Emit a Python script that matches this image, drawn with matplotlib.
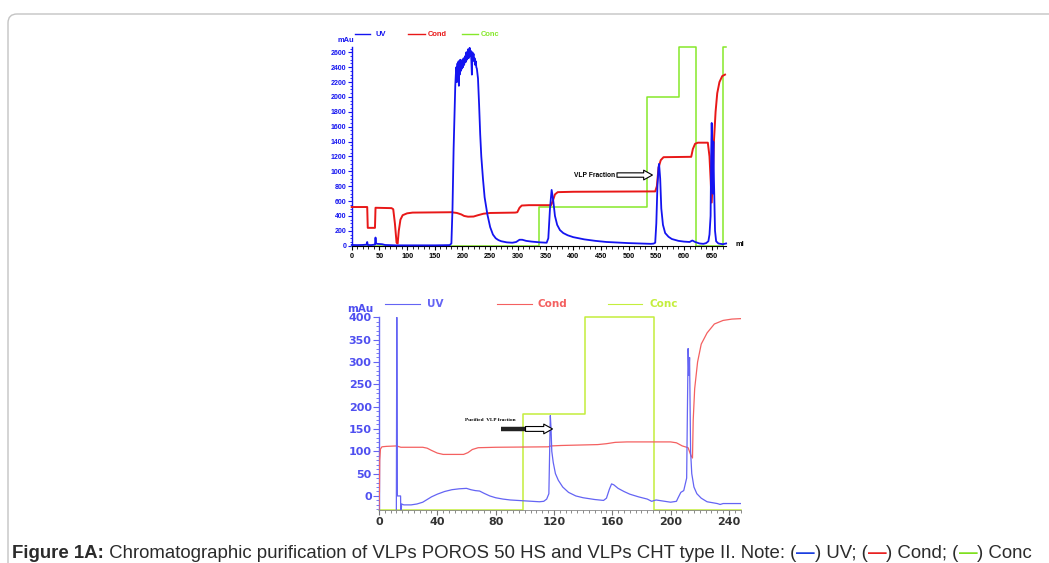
import matplotlib
matplotlib.use("Agg")
import matplotlib.pyplot as plt
from matplotlib.lines import Line2D
from matplotlib.patches import FancyBboxPatch, Rectangle
from matplotlib.ticker import MultipleLocator

# ---------------- data: top panel (POROS 50 HS) ----------------
uv1_x = [0, 10, 20, 27, 28, 29, 35, 42, 43, 44, 46, 55, 60, 80, 100, 150, 177, 180, 182, 184, 186,
         187, 188, 189, 190, 190.5, 191, 192, 193, 193.5, 194, 195, 196, 197, 198, 199, 200, 201,
         202, 203, 204, 205, 206, 207, 208, 209, 210, 211, 212, 213, 214, 215, 216, 217, 218, 219,
         220, 221, 222, 223, 224, 225, 226, 228, 230, 232, 234, 237, 240, 245, 250, 255, 260, 265,
         270, 280, 290, 297, 303, 308, 315, 325, 340, 352, 355, 358, 361, 364, 367, 371, 376, 382,
         390, 400, 420, 440, 460, 480, 500, 520, 540, 545, 548, 550, 552, 554, 555, 557, 559, 562,
         566, 572, 578, 590, 600, 610, 615, 620, 628, 635, 640, 644, 646, 648, 649, 650, 651, 652,
         653, 654, 656, 658, 662, 670, 676]
uv1_y = [10, 8, 10, 15, 50, 10, 8, 15, 110, 30, 25, 20, 10, 5, 5, 5, 8, 30, 500, 1300, 1900,
         2150, 2300, 2400, 2200, 2350, 2450, 2250, 2480, 2150, 2400, 2300, 2500, 2350, 2450, 2380,
         2500, 2400, 2520, 2430, 2480, 2550, 2470, 2600, 2500, 2580, 2640, 2520, 2600, 2660, 2550,
         2620, 2500, 2300, 2600, 2520, 2580, 2480, 2520, 2430, 2480, 2400, 2380, 2250, 1900, 1500,
         1200, 900, 650, 420, 250, 150, 100, 75, 60, 45, 40, 50, 80, 80, 65, 55, 45, 40, 100, 500,
         750, 600, 400, 280, 210, 170, 140, 115, 85, 65, 50, 42, 35, 30, 25, 28, 40, 300, 800,
         1050, 1100, 900, 500, 280, 170, 120, 90, 65, 55, 50, 70, 50, 30, 25, 35, 60, 150, 400,
         1200, 1650, 1300, 700, 1400, 900, 200, 60, 30, 20, 30]

cond1_x = [0, 28, 29, 42, 43, 72, 75, 78, 81, 83, 85, 88, 92, 100, 110, 180, 190, 198, 203, 210,
           220, 228, 238, 250, 295, 299, 303, 307, 320, 360, 363, 367, 372, 400, 548, 551, 554,
           558, 563, 613, 616, 620, 625, 643, 646, 648, 650, 652, 654, 657, 660, 664, 669, 674]
cond1_y = [520, 520, 240, 240, 510, 505, 490, 300, 40, 30, 200, 350, 410, 435, 445, 450, 440, 420,
           400, 390, 392, 410, 430, 440, 445, 450, 510, 540, 545, 545, 600, 690, 720, 725, 730, 800,
           1050, 1150, 1190, 1195, 1300, 1370, 1385, 1385, 1200, 900, 580, 900, 1400, 1800, 2050,
           2200, 2280, 2300]

conc1_x = [0, 338, 533, 591, 622, 671, 676]
conc1_y = [0, 525, 2000, 2667, 0, 2667, 2667]

x1_ticks = list(range(0, 651, 50))
y1_ticks = list(range(0, 2601, 200))

# ---------------- data: bottom panel (CHT type II) ----------------
uv2_x = [11.9, 12.2, 12.6, 14.8, 14.9, 15.3, 15.5, 17, 22, 26, 30, 33, 36, 40, 45, 50, 55, 60, 63,
         66, 69, 72, 76, 80, 85, 90, 100, 110, 113, 115, 116.5, 117.5, 118, 118.5, 119.5, 121, 123,
         126, 130, 135, 140, 148, 154, 156, 158, 159.5, 161, 164, 168, 172, 178, 184, 187, 190, 194,
         200, 204, 205, 207, 209, 211, 212, 212.5, 213, 213.7, 214.5, 216, 218, 221, 225, 232, 234,
         236, 248]
uv2_y = [-31, 400, 0, 0, -31, -31, -18, -20, -20, -18, -14, -8, -2, 4, 10, 14, 16, 17, 14,
         12, 11, 6, 0, -4, -7, -9, -11, -13, -12, -7, 5, 180, 150, 100, 75, 50, 35,
         20, 8, 0, -4, -8, -10, -5, 15, 27, 25, 17, 10, 4, -2, -7, -12, -9, -11,
         -14, -12, -5, 8, 12, 40, 330, 270, 310, 100, 50, 20, 5, -5, -13, -17, -19,
         -17, -17]

cond2_x = [0, 0.3, 0.5, 1, 2, 5, 12, 15, 30, 33, 36, 40, 44, 58, 61, 64, 68, 80, 116, 118, 125,
           150, 156, 162, 170, 200, 204, 208, 212, 214, 215, 215.5, 216.5, 218.5, 221, 225, 230,
           236, 242, 248]
cond2_y = [-31, 10, 80, 105, 110, 111, 112, 109, 109, 107, 102, 96, 93, 93, 97, 104, 108, 109, 110,
           112, 113, 115, 117, 120, 121, 121, 119, 112, 108, 90, 85, 170, 240, 300, 340, 365, 385,
           393, 396, 397]

conc2_x = [0, 99, 141.5, 188.5, 248]
conc2_y = [-31, 184, 400, -31, -31]

x2_ticks = list(range(0, 241, 40))
y2_ticks = list(range(0, 401, 50))

# ---------------- figure ----------------
W, H = 1049, 563
fig = plt.figure(figsize=(W / 100, H / 100), dpi=100)
fig.patch.set_facecolor("white")
T = fig.dpi_scale_trans


def P(x, y):
    return (x / 100.0, (H - y) / 100.0)


# border
fig.patches.append(FancyBboxPatch(P(8, 600), (1070 - 8) / 100, (600 - 14) / 100,
                                  boxstyle="round,pad=0,rounding_size=0.09",
                                  transform=T, fill=False, ec="#c4c4c4", lw=1.0))

# ---------- top axes ----------
B1, R1, G1 = "#1414f0", "#e81818", "#86e82a"
ax1 = fig.add_axes([351.7 / W, (H - 245.7) / H, (726.1 - 351.7) / W, 198.6 / H])
ax1.set_xlim(0, 676)
ax1.set_ylim(0, 2670)
ax1.plot(conc1_x, conc1_y, color=G1, lw=1.1, drawstyle="steps-post", clip_on=False, zorder=2)
ax1.plot(cond1_x, cond1_y, color=R1, lw=1.4, clip_on=False, zorder=3)
ax1.plot(uv1_x, uv1_y, color=B1, lw=1.3, clip_on=False, zorder=4)
for s in ("top", "right"):
    ax1.spines[s].set_visible(False)
ax1.spines["left"].set_color(B1)
ax1.spines["left"].set_linewidth(1.0)
ax1.spines["bottom"].set_color("black")
ax1.spines["bottom"].set_linewidth(0.8)
ax1.set_xticks(x1_ticks)
ax1.set_yticks(y1_ticks)
ax1.xaxis.set_minor_locator(MultipleLocator(10))
ax1.yaxis.set_minor_locator(MultipleLocator(50))
ax1.tick_params(axis="y", which="major", length=3, width=0.8, color=B1, labelcolor=B1,
                labelsize=5, pad=1)
ax1.tick_params(axis="y", which="minor", length=1.6, width=0.6, color=B1)
ax1.tick_params(axis="x", which="major", length=3, width=0.8, color="black", labelsize=5.2, pad=2)
ax1.tick_params(axis="x", which="minor", length=2, width=0.6, color="black")
for lbl in ax1.get_xticklabels() + ax1.get_yticklabels():
    lbl.set_fontweight("bold")
    lbl.set_fontfamily("Liberation Sans")
ax1.set_facecolor("none")

# annotation top
ax1.text(475, 950, "VLP Fraction", ha="right", va="center", fontsize=4.8, fontweight="bold",
         family="Liberation Sans")
ax1.annotate("", xy=(543, 950), xytext=(479, 950),
             arrowprops=dict(arrowstyle="simple,head_length=0.9,head_width=1.0,tail_width=0.45",
                             fc="white", ec="black", lw=0.8, mutation_scale=7,
                             shrinkA=0, shrinkB=0))

# legend top
fs_l1 = 5.4
fig.text(*P(337, 40), "mAu", transform=T, color=B1, fontsize=fs_l1, fontweight="bold",
         family="Liberation Sans", va="center", ha="left")
fig.text(*P(735, 245), "ml", transform=T, color="black", fontsize=fs_l1, fontweight="bold",
         family="Liberation Sans", va="center", ha="left")
for (x0, x1, tx, lab, c) in [(355, 370, 375, "UV", B1), (408, 425, 428, "Cond", R1),
                             (462, 478, 481, "Conc", G1)]:
    fig.add_artist(Line2D([x0 / 100, x1 / 100], [(H - 34) / 100] * 2, transform=T, color=c, lw=1.0))
    fig.text(*P(tx, 34), lab, transform=T, color=c, fontsize=fs_l1, fontweight="bold",
             family="Liberation Sans", va="center", ha="left")

# ---------- bottom axes ----------
B2, R2, G2 = "#6464f4", "#f46060", "#c4ee3c"
ax2 = fig.add_axes([379 / W, (H - 509.8) / H, (740.6 - 379) / W, 192.5 / H])
ax2.set_xlim(0, 248)
ax2.set_ylim(-31, 400)
ax2.plot(conc2_x, conc2_y, color=G2, lw=1.1, drawstyle="steps-post", clip_on=False, zorder=2)
ax2.plot(cond2_x, cond2_y, color=R2, lw=0.9, zorder=3)
ax2.plot(uv2_x, uv2_y, color=B2, lw=0.9, zorder=4)
for s in ("top", "right"):
    ax2.spines[s].set_visible(False)
ax2.spines["left"].set_color(B2)
ax2.spines["left"].set_linewidth(1.0)
ax2.spines["bottom"].set_color("#888888")
ax2.spines["bottom"].set_linewidth(0.6)
ax2.set_xticks(x2_ticks)
ax2.set_yticks(y2_ticks)
ax2.xaxis.set_minor_locator(MultipleLocator(4))
ax2.yaxis.set_minor_locator(MultipleLocator(10))
ax2.tick_params(axis="y", which="major", length=4.3, width=0.8, color=B2, labelcolor="#4f4ff0",
                labelsize=8, pad=1)
ax2.tick_params(axis="y", which="minor", length=2.2, width=0.6, color=B2)
ax2.tick_params(axis="x", which="major", length=3.5, width=0.8, color="#777777",
                labelcolor="#333333", labelsize=8, pad=2)
ax2.tick_params(axis="x", which="minor", length=2.2, width=0.6, color="#777777")
for lbl in ax2.get_xticklabels() + ax2.get_yticklabels():
    lbl.set_fontweight("bold")
    lbl.set_fontfamily("DejaVu Sans")
ax2.set_facecolor("none")

# annotation bottom
ax2.text(76.5, 170, "Purified  VLP fraction", ha="center", va="center", fontsize=3.8,
         fontweight="bold", family="Liberation Serif")
ax2.plot([83.7, 101.5], [150, 150], color="#222222", lw=3.2, solid_capstyle="butt", zorder=6)
ax2.annotate("", xy=(119, 150), xytext=(100.5, 150),
             arrowprops=dict(arrowstyle="simple,head_length=0.9,head_width=1.0,tail_width=0.5",
                             fc="white", ec="black", lw=0.8, mutation_scale=7,
                             shrinkA=0, shrinkB=0), zorder=7)

# legend bottom
fig.text(*P(347, 309), "mAu", transform=T, color="#4f4ff0", fontsize=7.5, fontweight="bold",
         family="DejaVu Sans", va="center", ha="left")
for (x0, x1, tx, lab, c) in [(385, 420, 427, "UV", B2), (497, 532, 538, "Cond", R2),
                             (608, 642, 650, "Conc", G2)]:
    fig.add_artist(Line2D([x0 / 100, x1 / 100], [(H - 304) / 100] * 2, transform=T, color=c, lw=0.8))
    fig.text(*P(tx, 304), lab, transform=T, color=c, fontsize=7.5, fontweight="bold",
             family="DejaVu Sans", va="center", ha="left")

# clip the cut-off right edge of the lower picture
fig.patches.append(Rectangle(P(741.5, 532), 0.3, 0.22, transform=T, fc="white", ec="none", zorder=10))

# ---------- caption ----------
fig.canvas.draw()
renderer = fig.canvas.get_renderer()
cap_fs = 13.4
base_y = (H - 558) / 100
xcur = 12 / 100
cap_parts = [("Figure 1A:", "bold", "#2b2b2b"),
             (" Chromatographic purification of VLPs POROS 50 HS and VLPs CHT type II. Note: (", "normal", "#2b2b2b"),
             ("\u2014", "bold", "#1a3ee0"), (") UV; (", "normal", "#2b2b2b"),
             ("\u2014", "bold", "#e82020"), (") Cond; (", "normal", "#2b2b2b"),
             ("\u2014", "bold", "#7ee01e"), (") Conc", "normal", "#2b2b2b")]
for txt, wt, col in cap_parts:
    t = fig.text(xcur, base_y, txt, transform=T, fontsize=cap_fs, fontweight=wt, color=col,
                 family="Liberation Sans", va="baseline", ha="left")
    bb = t.get_window_extent(renderer=renderer)
    xcur += bb.width / 100.0

fig.savefig("out.png", dpi=100)
